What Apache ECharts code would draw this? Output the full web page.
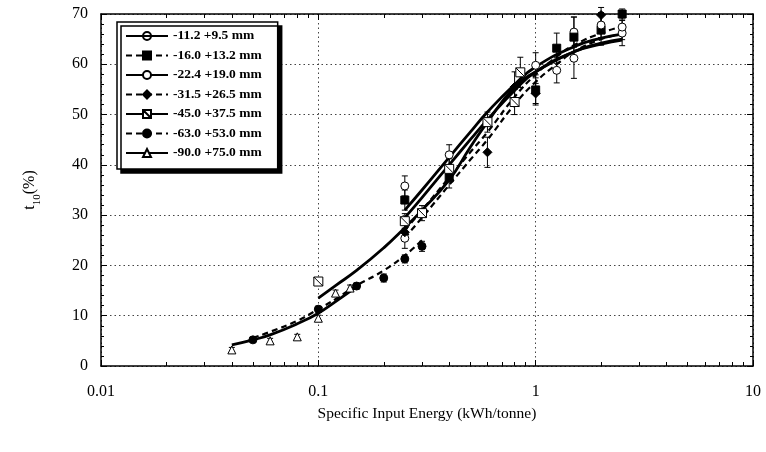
<!DOCTYPE html>
<html><head><meta charset="utf-8">
<script src="https://cdn.jsdelivr.net/npm/echarts@6/dist/echarts.min.js"></script>
<style>html,body{margin:0;padding:0;background:#fff}#c{width:766px;height:452px}</style>
</head><body><div id="c"></div>
<script>
// ---- tick labels ----
const xTickLabels = {0.01:'0.01', 0.1:'0.1', 1:'1', 10:'10'};
const xMinorTicks = [0.02,0.03,0.04,0.05,0.06,0.07,0.08,0.09,0.2,0.3,0.4,0.5,0.6,0.7,0.8,0.9,2,3,4,5,6,7,8,9];
const xMajorTicks = [0.01,0.1,1,10];

// ---- series names ----
const names = ['-11.2 +9.5 mm','-16.0 +13.2 mm','-22.4 +19.0 mm','-31.5 +26.5 mm','-45.0 +37.5 mm','-63.0 +53.0 mm','-90.0 +75.0 mm'];

// ---- fitted curves [energy, t10] ----
const curve112 = [[0.25,31],[0.3,35],[0.4,41.5],[0.5,46.5],[0.6,50.5],[0.8,56],[1,59.5],[1.5,63.5],[2,65.2],[2.5,66]];
const curve160 = [[0.25,27],[0.3,31],[0.4,37.5],[0.5,42.5],[0.6,46.5],[0.8,53.5],[1,58],[1.25,61.5],[1.5,63.8],[2,66.2],[2.5,67.5]];
const curve224 = [[0.25,29.5],[0.3,33.5],[0.4,40],[0.5,45],[0.6,49],[0.8,54.8],[1,58.5],[1.5,62.5],[2,64.2],[2.5,65]];
const curve315 = [[0.25,25.5],[0.3,29.5],[0.4,36],[0.5,41],[0.6,45],[0.8,52],[1,56.5],[1.25,60],[1.5,62.5],[2,65],[2.5,66]];
const curve450 = [[0.1,13.5],[0.12,16],[0.15,19],[0.2,23.5],[0.25,27.5],[0.3,31],[0.4,37],[0.5,43.5],[0.6,48.5],[0.8,55.5],[1,58.5],[1.5,62.5],[2,64],[2.5,64.8]];
const curve630 = [[0.05,5.6],[0.06,6.8],[0.08,9],[0.1,11.3],[0.12,13.3],[0.15,16],[0.2,19],[0.25,22],[0.3,25]];
const curve900 = [[0.04,4.2],[0.05,5.2],[0.06,6.2],[0.08,8.4],[0.1,10.5],[0.12,12.8],[0.15,15.8]];

// ---- measured points [energy, t10, error] ----
const pts112 = [[0.25,35.8,2],[0.4,42,2],[1.0,59.8,2.5],[1.5,66.4,3],[2.5,66.2,2.5]];
const pts160 = [[0.25,33,2],[0.4,37.4,2],[1.0,54.9,3],[1.25,63.2,3],[1.5,65.4,4],[2.0,66.8,3],[2.5,70,1]];
const pts224 = [[0.25,25.4,2],[1.25,58.8,2.5],[1.5,61.2,4],[2.0,67.8,2.5],[2.5,67.4,2.5]];
const pts315 = [[0.25,26.6,1.5],[0.6,42.5,3],[0.8,55.5,3],[1.0,54.2,2],[2.0,69.8,1.5]];
const pts450 = [[0.1,16.8,0.8],[0.25,28.8,1.5],[0.3,30.4,1.5],[0.4,39.2,2],[0.6,48.5,2],[0.8,52.5,2.5],[0.85,58.4,3]];
const pts630 = [[0.05,5.2,0.5],[0.1,11.3,0.6],[0.15,15.9,0.6],[0.2,17.5,0.8],[0.25,21.3,0.8],[0.3,23.8,1]];
const pts900 = [[0.04,3.2,0.5],[0.06,5,0.5],[0.08,5.8,0.5],[0.1,9.5,0.6],[0.12,14.5,0.6],[0.14,15.5,0.6]];

const boxSlash = 'path://M0,0 L10,0 L10,10 L0,10 Z M0,0 L10,10';
const styles = [
  {curve:curve112, pts:pts112, dash:false, symbol:'circle', size:8, fill:'rgba(255,255,255,0)'},
  {curve:curve160, pts:pts160, dash:true,  symbol:'rect', size:8, fill:'#000'},
  {curve:curve224, pts:pts224, dash:false, symbol:'circle', size:8, fill:'#fff'},
  {curve:curve315, pts:pts315, dash:true,  symbol:'diamond', size:9, fill:'#000'},
  {curve:curve450, pts:pts450, dash:false, symbol:boxSlash, size:9, fill:'#fff'},
  {curve:curve630, pts:pts630, dash:true,  symbol:'circle', size:8, fill:'#000'},
  {curve:curve900, pts:pts900, dash:false, symbol:'triangle', size:8, fill:'#fff'}
];

const font = 'Liberation Serif, Times New Roman, serif';
const series = [];
// error bars
const errData = [];
styles.forEach(s => s.pts.forEach(p => errData.push([p[0], p[1]-p[2], p[1]+p[2]])));
series.push({
  type:'custom', name:'err', xAxisIndex:0, yAxisIndex:0, z:2, silent:true,
  data: errData,
  renderItem: function(params, api){
    const lo = api.coord([api.value(0), api.value(1)]);
    const hi = api.coord([api.value(0), api.value(2)]);
    const w = 3;
    const st = {stroke:'#000', lineWidth:1};
    return {type:'group', children:[
      {type:'line', shape:{x1:lo[0],y1:lo[1],x2:hi[0],y2:hi[1]}, style:st},
      {type:'line', shape:{x1:lo[0]-w,y1:lo[1],x2:lo[0]+w,y2:lo[1]}, style:st},
      {type:'line', shape:{x1:hi[0]-w,y1:hi[1],x2:hi[0]+w,y2:hi[1]}, style:st}
    ]};
  }
});
styles.forEach((s,i) => {
  series.push({
    type:'line', name:names[i], data:s.curve, smooth:true, showSymbol:false,
    symbol:s.symbol, symbolSize:s.size-1, z:3,
    lineStyle:{color:'#000', width:s.dash?2.2:2.8, type:s.dash?[6,4]:'solid'},
    itemStyle:{color:s.fill, borderColor:'#000', borderWidth:1},
    emphasis:{disabled:true}
  });
  series.push({
    type:'scatter', name:'pts'+i, data:s.pts.map(p=>[p[0],p[1]]),
    symbol:s.symbol, symbolSize:s.size, z:4,
    itemStyle:{color:s.fill==='rgba(255,255,255,0)'?'#fff':s.fill, borderColor:'#000', borderWidth:1, opacity:1}
  });
});

const axisLine = {show:true, lineStyle:{color:'#000', width:1.5}};
const grid = {left:101, right:13, top:14, bottom:86};
const chart = echarts.init(document.getElementById('c'), null, {renderer:'canvas'});
chart.setOption({
  animation:false,
  backgroundColor:'#fff',
  grid: grid,
  legend:{
    data:names, orient:'vertical', left:117, top:22,
    itemWidth:42, itemHeight:10, itemGap:5.5,
    padding:[7,16,9,8],
    backgroundColor:'#fff', borderColor:'#000', borderWidth:1.5,
    shadowColor:'#000', shadowBlur:0, shadowOffsetX:4, shadowOffsetY:4,
    textStyle:{fontFamily:font, fontWeight:'bold', fontSize:13.5, color:'#000'},
    selectedMode:false
  },
  xAxis:[
    {type:'log', logBase:10, min:0.01, max:10, position:'bottom', axisLine:axisLine,
     axisTick:{show:true, inside:true, length:6, customValues:xMajorTicks, lineStyle:{color:'#000'}},
     axisLabel:{fontFamily:font, fontSize:16, color:'#000', margin:18, customValues:xMajorTicks, formatter:v=>xTickLabels[+v.toPrecision(3)]||''},
     splitLine:{show:true, lineStyle:{color:'#444', width:1, type:[1.5,3]}},
     name:'Specific Input Energy (kWh/tonne)', nameLocation:'middle', nameGap:40,
     nameTextStyle:{fontFamily:font, fontSize:15.5, color:'#000'}},
    {type:'log', logBase:10, min:0.01, max:10, position:'bottom', axisLine:{show:false},
     axisTick:{show:true, inside:true, length:4, customValues:xMinorTicks, lineStyle:{color:'#000'}},
     axisLabel:{show:false}, splitLine:{show:false}},
    {type:'log', logBase:10, min:0.01, max:10, position:'top', axisLine:axisLine,
     axisTick:{show:true, inside:true, length:6, customValues:xMajorTicks, lineStyle:{color:'#000'}},
     axisLabel:{show:false}, splitLine:{show:false}},
    {type:'log', logBase:10, min:0.01, max:10, position:'top', axisLine:{show:false},
     axisTick:{show:true, inside:true, length:4, customValues:xMinorTicks, lineStyle:{color:'#000'}},
     axisLabel:{show:false}, splitLine:{show:false}}
  ],
  yAxis:[
    {type:'value', min:0, max:70, interval:10, position:'left', axisLine:axisLine,
     axisTick:{show:true, inside:true, length:6, lineStyle:{color:'#000'}},
     minorTick:{show:true, splitNumber:5, length:3, lineStyle:{color:'#000'}},
     axisLabel:{fontFamily:font, fontSize:16, color:'#000', margin:13},
     splitLine:{show:true, lineStyle:{color:'#444', width:1, type:[1.5,3]}},
     name:'{a|t}{b|10}{a|(%)}', nameLocation:'middle', nameGap:58,
     nameTextStyle:{rich:{
       a:{fontFamily:font, fontSize:16, color:'#000', lineHeight:26, verticalAlign:'middle'},
       b:{fontFamily:font, fontSize:11, color:'#000', lineHeight:26, verticalAlign:'bottom'}
     }}},
    {type:'value', min:0, max:70, interval:10, position:'right', axisLine:axisLine,
     axisTick:{show:true, inside:true, length:6, lineStyle:{color:'#000'}},
     minorTick:{show:true, splitNumber:5, length:3, lineStyle:{color:'#000'}},
     axisLabel:{show:false}, splitLine:{show:false}}
  ],
  series: series
});
</script></body></html>
